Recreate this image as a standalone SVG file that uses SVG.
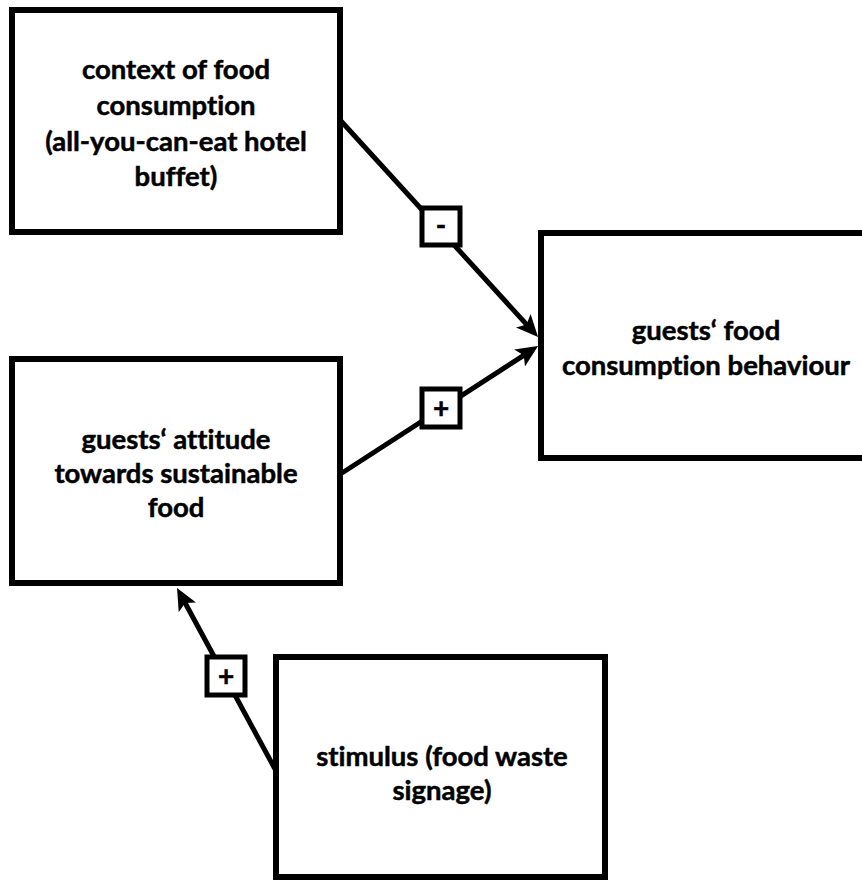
<svg xmlns="http://www.w3.org/2000/svg" width="862" height="881" viewBox="0 0 862 881">
  <defs>
    <style>
      .node { fill: #ffffff; stroke: #000000; stroke-width: 6; }
      .lbl { font-family: Lato, "Liberation Sans", sans-serif; font-weight: bold; font-size: 27.5px; fill: #000000; stroke: #000000; stroke-width: 0.5; text-anchor: middle; font-variant-ligatures: none; }
      .conn { stroke: #000000; stroke-width: 5; fill: none; marker-end: url(#arrow); }
      .sign { fill: #ffffff; stroke: #000000; stroke-width: 5; }
      .signtxt { font-family: Lato, "Liberation Sans", sans-serif; font-weight: bold; font-size: 28px; fill: #000000; stroke: #000000; stroke-width: 0.5; text-anchor: middle; }
    </style>
    <marker id="arrow" markerUnits="userSpaceOnUse" markerWidth="22" markerHeight="20" refX="16" refY="10" orient="auto">
      <path d="M0,0 L22,10 L0,20 L5,10 z" fill="#000000"/>
    </marker>
  </defs>
  <rect width="862" height="881" fill="#ffffff"/>

  <g id="connectors">
    <line class="conn" x1="341" y1="121" x2="534" y2="332.6"/>
    <line class="conn" x1="342" y1="473" x2="533" y2="349.3"/>
    <line class="conn" x1="275" y1="769" x2="179.9" y2="593.3"/>
    <g id="sign-minus">
      <rect class="sign" x="422" y="208" width="38" height="37"/>
      <text class="signtxt" x="441" y="235">-</text>
    </g>
    <g id="sign-plus-1">
      <rect class="sign" x="422" y="389" width="38" height="38"/>
      <text class="signtxt" x="441" y="418">+</text>
    </g>
    <g id="sign-plus-2">
      <rect class="sign" x="207" y="657" width="38" height="38"/>
      <text class="signtxt" x="226" y="686">+</text>
    </g>
  </g>

  <g id="node-context">
    <rect class="node" x="12" y="10" width="328" height="222"/>
    <text class="lbl" x="176" y="79">context of food</text>
    <text class="lbl" x="176" y="115">consumption</text>
    <text class="lbl" x="176" y="151">(all-you-can-eat hotel</text>
    <text class="lbl" x="176" y="186">buffet)</text>
  </g>

  <g id="node-behaviour">
    <rect class="node" x="541" y="233" width="340" height="225"/>
    <text class="lbl" x="706" y="340">guests‘ food</text>
    <text class="lbl" x="706" y="375">consumption behaviour</text>
  </g>

  <g id="node-attitude">
    <rect class="node" x="12" y="359" width="328" height="224"/>
    <text class="lbl" x="176" y="449">guests‘ attitude</text>
    <text class="lbl" x="176" y="483">towards sustainable</text>
    <text class="lbl" x="176" y="517">food</text>
  </g>

  <g id="node-stimulus">
    <rect class="node" x="276" y="657" width="329" height="220"/>
    <text class="lbl" x="442" y="766">stimulus (food waste</text>
    <text class="lbl" x="442" y="800">signage)</text>
  </g>
</svg>
